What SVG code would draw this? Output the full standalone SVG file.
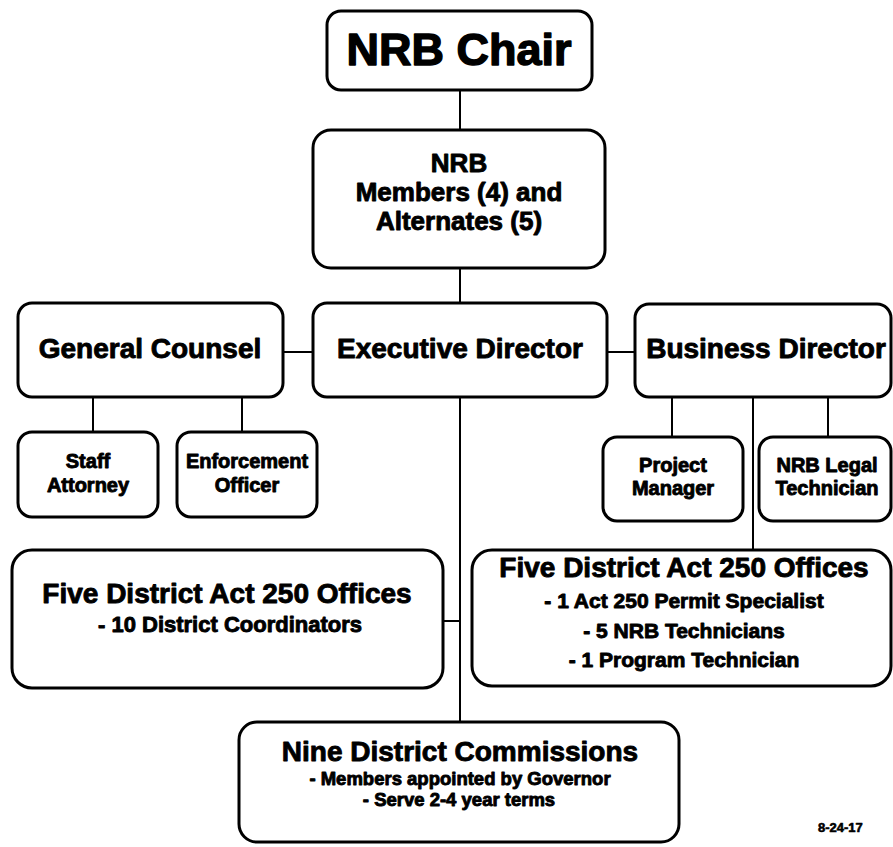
<svg xmlns="http://www.w3.org/2000/svg" width="893" height="847" viewBox="0 0 893 847">
  <style>
    .box { fill: #ffffff; stroke: #000000; stroke-width: 3; }
    .link { stroke: #000000; stroke-width: 2; fill: none; }
    text { font-family: "Liberation Sans", Arial, Helvetica, sans-serif; font-weight: bold; fill: #000000; stroke: #000000; stroke-width: 0.9; stroke-linejoin: round; text-anchor: middle; }
    .t45 { font-size: 45px; stroke-width: 1.4; }
    .t28 { font-size: 28px; }
    .t26 { font-size: 26px; }
    .t22 { font-size: 22px; }
    .t21 { font-size: 21px; }
    .t20 { font-size: 20px; }
    .t18 { font-size: 18.5px; }
    .t14 { font-size: 13px; text-anchor: start; stroke-width: 0.6; }
  </style>
  <rect width="893" height="847" fill="#ffffff"/>

  <!-- connectors -->
  <g id="connectors">
    <line class="link" x1="460" y1="90" x2="460" y2="130"/>
    <line class="link" x1="460" y1="268" x2="460" y2="303"/>
    <line class="link" x1="460" y1="397" x2="460" y2="722"/>
    <line class="link" x1="283" y1="352" x2="313" y2="352"/>
    <line class="link" x1="607" y1="352" x2="635" y2="352"/>
    <line class="link" x1="93" y1="397" x2="93" y2="432"/>
    <line class="link" x1="242" y1="397" x2="242" y2="432"/>
    <line class="link" x1="672" y1="397" x2="672" y2="437"/>
    <line class="link" x1="828" y1="397" x2="828" y2="437"/>
    <line class="link" x1="753" y1="397" x2="753" y2="550"/>
    <line class="link" x1="443" y1="621" x2="460" y2="621"/>
  </g>

  <g id="nrb-chair">
    <rect class="box" x="327" y="11" width="265" height="79" rx="14"/>
    <text class="t45" x="459" y="65">NRB Chair</text>
  </g>

  <g id="nrb-members">
    <rect class="box" x="313" y="130" width="292" height="138" rx="18"/>
    <text class="t26" x="459" y="172">NRB</text>
    <text class="t26" x="459" y="201">Members (4) and</text>
    <text class="t26" x="459" y="230">Alternates (5)</text>
  </g>

  <g id="general-counsel">
    <rect class="box" x="18" y="303" width="265" height="94" rx="14"/>
    <text class="t28" x="150" y="358">General Counsel</text>
  </g>

  <g id="executive-director">
    <rect class="box" x="313" y="303" width="294" height="94" rx="14"/>
    <text class="t28" x="460" y="358">Executive Director</text>
  </g>

  <g id="business-director">
    <rect class="box" x="635" y="304" width="256" height="93" rx="14"/>
    <text class="t28" x="766" y="358">Business Director</text>
  </g>

  <g id="staff-attorney">
    <rect class="box" x="18" y="432" width="140" height="85" rx="14"/>
    <text class="t20" x="88" y="468">Staff</text>
    <text class="t20" x="88" y="492">Attorney</text>
  </g>

  <g id="enforcement-officer">
    <rect class="box" x="177" y="432" width="140" height="85" rx="14"/>
    <text class="t20" x="247" y="468">Enforcement</text>
    <text class="t20" x="247" y="492">Officer</text>
  </g>

  <g id="project-manager">
    <rect class="box" x="603" y="437" width="140" height="84" rx="14"/>
    <text class="t20" x="673" y="472">Project</text>
    <text class="t20" x="673" y="495">Manager</text>
  </g>

  <g id="nrb-legal-technician">
    <rect class="box" x="759" y="437" width="132" height="84" rx="14"/>
    <text class="t20" x="827" y="472">NRB Legal</text>
    <text class="t20" x="827" y="495">Technician</text>
  </g>

  <g id="district-offices-left">
    <rect class="box" x="12" y="550" width="431" height="138" rx="20"/>
    <text class="t28" x="227" y="603">Five District Act 250 Offices</text>
    <text class="t22" x="230" y="632">- 10 District Coordinators</text>
  </g>

  <g id="district-offices-right">
    <rect class="box" x="472" y="550" width="419" height="136" rx="20"/>
    <text class="t28" x="684" y="577">Five District Act 250 Offices</text>
    <text class="t21" x="684" y="608">- 1 Act 250 Permit Specialist</text>
    <text class="t21" x="684" y="638">- 5 NRB Technicians</text>
    <text class="t21" x="684" y="667">- 1 Program Technician</text>
  </g>

  <g id="district-commissions">
    <rect class="box" x="239" y="722" width="440" height="120" rx="18"/>
    <text class="t28" x="460" y="761">Nine District Commissions</text>
    <text class="t18" x="460" y="785">- Members appointed by Governor</text>
    <text class="t18" x="459" y="806">- Serve 2-4 year terms</text>
  </g>

  <text class="t14" x="818" y="832">8-24-17</text>
</svg>
